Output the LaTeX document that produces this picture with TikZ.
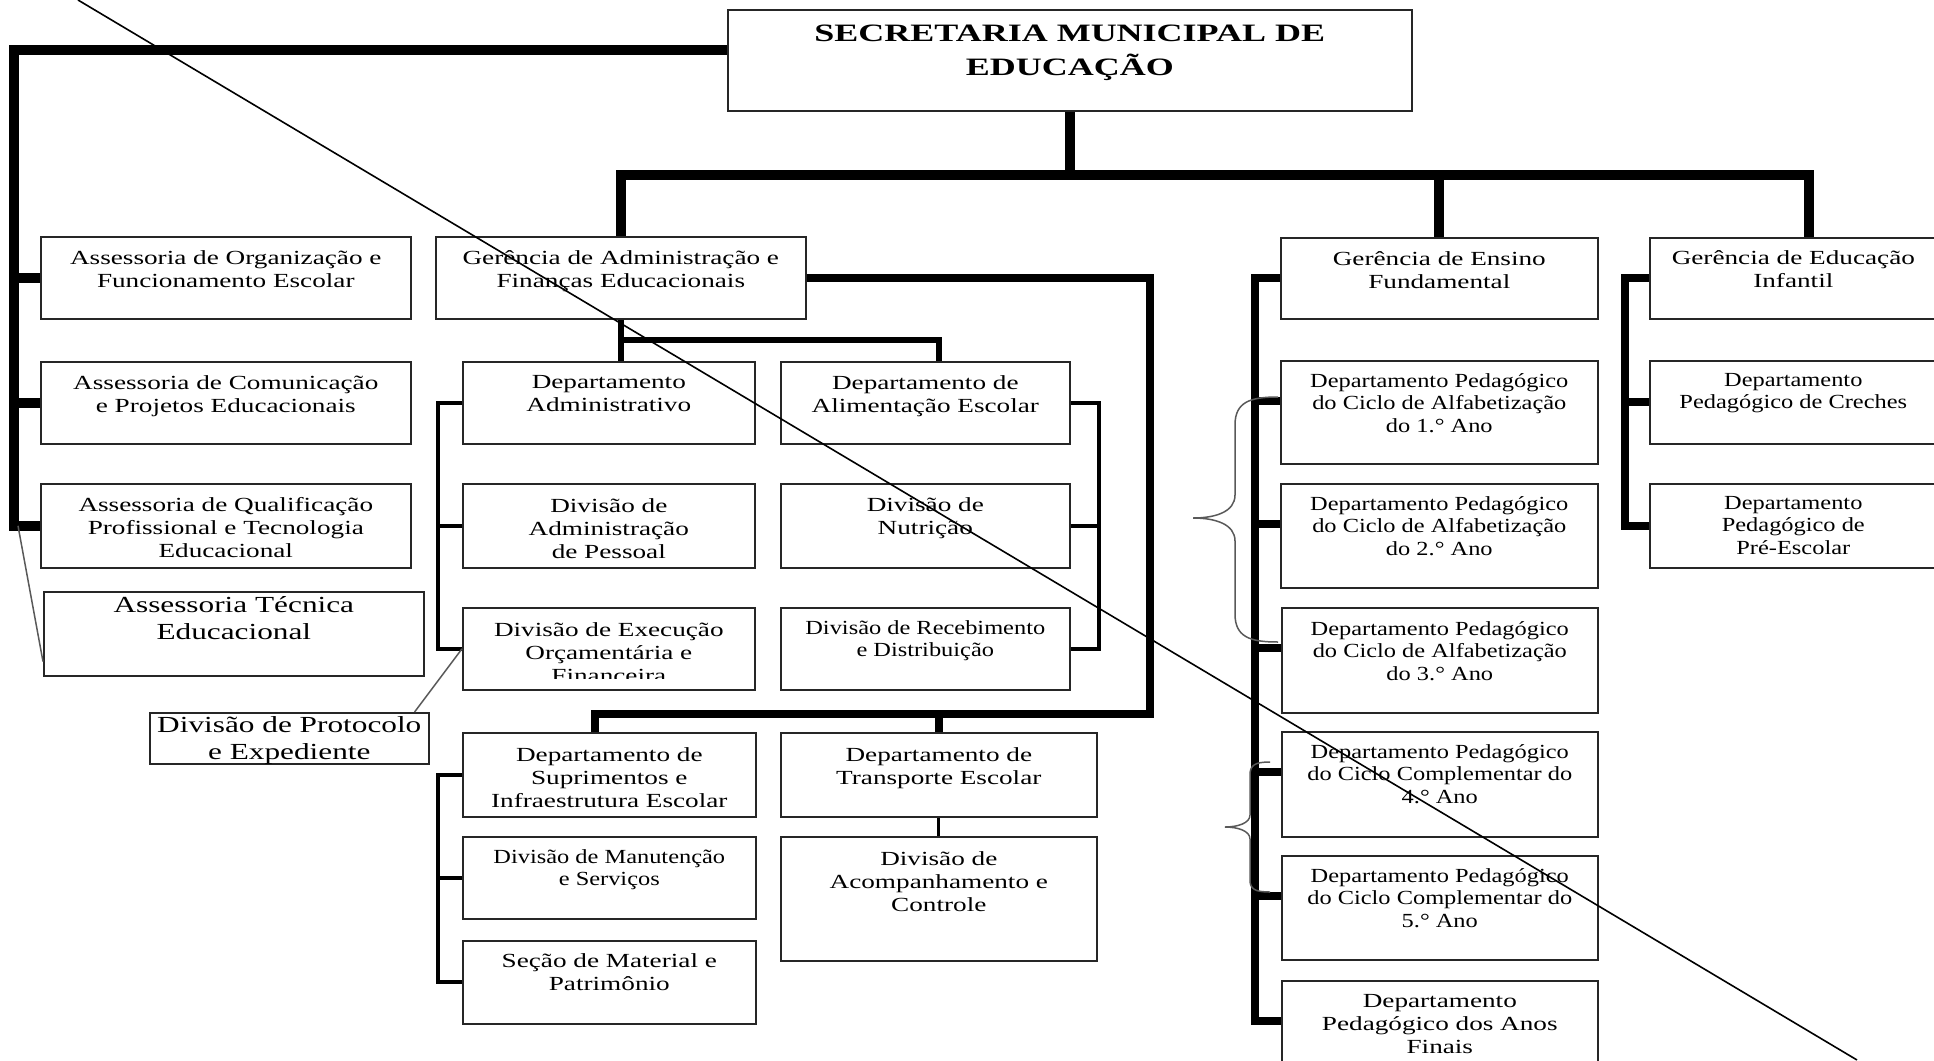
\documentclass[tikz,border=0pt]{standalone}
\usepackage{fontspec}
\setmainfont[FakeStretch=1.36]{Liberation Serif}
\newfontfamily\narrowfont[FakeStretch=1.22]{Liberation Serif}
\newfontfamily\titlefont[FakeStretch=1.44]{Liberation Serif}
\usetikzlibrary{positioning}

\begin{document}
\begin{tikzpicture}[x=1pt, y=-1pt,
    orgbox/.style={draw=black!85, line width=1.6pt, inner sep=0pt, anchor=north west},
    boxtext/.style={align=center, inner sep=0pt, font=\fontsize{20}{23}\selectfont},
    narrowtext/.style={align=center, inner sep=0pt, font=\narrowfont\fontsize{20}{22.5}\selectfont},
    bigtext/.style={align=center, inner sep=0pt, font=\fontsize{23}{27.5}\selectfont},
    trunk/.style={line width=10pt},
    branch/.style={line width=8pt},
    link/.style={line width=6pt},
    subline/.style={line width=4pt},
    hairline/.style={line width=1.5pt, black!65}]

    \clip (0,0) rectangle (1934,1060);

    % Secretaria
    \node[orgbox, minimum width=684, minimum height=101] (sme) at (727,9) {};
    \node[align=center, inner sep=0pt, font=\titlefont\bfseries\fontsize{25}{33.5}\selectfont,
          below=16pt of sme.north] (sme-t) {SECRETARIA MUNICIPAL DE\\EDUCAÇÃO};

    % Assessorias
    \node[orgbox, minimum width=370, minimum height=82] (aofe) at (40,236) {};
    \node[boxtext, below=14pt of aofe.north] (aofe-t) {Assessoria de Organização e\\Funcionamento Escolar};
    \node[orgbox, minimum width=370, minimum height=82] (acpe) at (40,361) {};
    \node[boxtext, below=14pt of acpe.north] (acpe-t) {Assessoria de Comunicação\\e Projetos Educacionais};
    \node[orgbox, minimum width=370, minimum height=84] (aqpte) at (40,483) {};
    \node[boxtext, below=14pt of aqpte.north] (aqpte-t) {Assessoria de Qualificação\\Profissional e Tecnologia\\Educacional};
    \node[orgbox, minimum width=380, minimum height=84] (ate) at (43,591) {};
    \node[bigtext, below=5pt of ate.north] (ate-t) {Assessoria Técnica\\Educacional};

    % Gerencia de Administracao
    \node[orgbox, minimum width=370, minimum height=82] (gafe) at (435,236) {};
    \node[boxtext, below=14pt of gafe.north] (gafe-t) {Gerência de Administração e\\Finanças Educacionais};

    \node[orgbox, minimum width=292, minimum height=82] (da) at (462,361) {};
    \node[boxtext, below=14pt of da.north] (da-t) {Departamento\\Administrativo};
    \node[orgbox, minimum width=292, minimum height=84] (dap) at (462,483) {};
    \node[boxtext, below=15pt of dap.north] (dap-t) {Divisão de\\Administração\\de Pessoal};
    \node[orgbox, minimum width=292, minimum height=82] (deof) at (462,607) {};
    \begin{scope}
        \clip ([yshift=12pt]deof.south west) rectangle (deof.north east);
        \node[boxtext, below=15pt of deof.north] (deof-t) {Divisão de Execução\\Orçamentária e\\Financeira};
    \end{scope}
    \node[orgbox, minimum width=279, minimum height=51] (prot) at (149,712) {};
    \node[bigtext, below=4pt of prot.north] (prot-t) {Divisão de Protocolo\\e Expediente};

    \node[orgbox, minimum width=289, minimum height=82] (dae) at (780,361) {};
    \node[boxtext, below=14pt of dae.north] (dae-t) {Departamento de\\Alimentação Escolar};
    \node[orgbox, minimum width=289, minimum height=84] (dn) at (780,483) {};
    \node[boxtext, below=14pt of dn.north] (dn-t) {Divisão de\\Nutrição};
    \node[orgbox, minimum width=289, minimum height=82] (drd) at (780,607) {};
    \node[narrowtext, below=13pt of drd.north] (drd-t) {Divisão de Recebimento\\e Distribuição};

    \node[orgbox, minimum width=293, minimum height=84] (dsie) at (462,732) {};
    \node[boxtext, below=15pt of dsie.north] (dsie-t) {Departamento de\\Suprimentos e\\Infraestrutura Escolar};
    \node[orgbox, minimum width=293, minimum height=82] (dms) at (462,836) {};
    \node[narrowtext, below=13pt of dms.north] (dms-t) {Divisão de Manutenção\\e Serviços};
    \node[orgbox, minimum width=293, minimum height=83] (smp) at (462,940) {};
    \node[boxtext, below=13pt of smp.north] (smp-t) {Seção de Material e\\Patrimônio};

    \node[orgbox, minimum width=316, minimum height=84] (dte) at (780,732) {};
    \node[boxtext, below=15pt of dte.north] (dte-t) {Departamento de\\Transporte Escolar};
    \node[orgbox, minimum width=316, minimum height=124] (dac) at (780,836) {};
    \node[boxtext, below=15pt of dac.north] (dac-t) {Divisão de\\Acompanhamento e\\Controle};

    % Gerencia de Ensino Fundamental
    \node[orgbox, minimum width=317, minimum height=81] (gef) at (1280,237) {};
    \node[boxtext, below=14pt of gef.north] (gef-t) {Gerência de Ensino\\Fundamental};
    \node[orgbox, minimum width=317, minimum height=103] (dp1) at (1280,360) {};
    \node[narrowtext, below=13pt of dp1.north] (dp1-t) {Departamento Pedagógico\\do Ciclo de Alfabetização\\do 1.° Ano};
    \node[orgbox, minimum width=317, minimum height=104] (dp2) at (1280,483) {};
    \node[narrowtext, below=13pt of dp2.north] (dp2-t) {Departamento Pedagógico\\do Ciclo de Alfabetização\\do 2.° Ano};
    \node[orgbox, minimum width=316, minimum height=105] (dp3) at (1281,607) {};
    \node[narrowtext, below=14pt of dp3.north] (dp3-t) {Departamento Pedagógico\\do Ciclo de Alfabetização\\do 3.° Ano};
    \node[orgbox, minimum width=316, minimum height=105] (dp4) at (1281,731) {};
    \node[narrowtext, below=13pt of dp4.north] (dp4-t) {Departamento Pedagógico\\do Ciclo Complementar do\\4.° Ano};
    \node[orgbox, minimum width=316, minimum height=104] (dp5) at (1281,855) {};
    \node[narrowtext, below=13pt of dp5.north] (dp5-t) {Departamento Pedagógico\\do Ciclo Complementar do\\5.° Ano};
    \node[orgbox, minimum width=316, minimum height=104] (dpaf) at (1281,980) {};
    \node[boxtext, below=14pt of dpaf.north] (dpaf-t) {Departamento\\Pedagógico dos Anos\\Finais};

    % Gerencia de Educacao Infantil
    \node[orgbox, minimum width=287, minimum height=81] (gei) at (1649,237) {};
    \node[boxtext, below=13pt of gei.north] (gei-t) {Gerência de Educação\\Infantil};
    \node[orgbox, minimum width=287, minimum height=83] (creches) at (1649,360) {};
    \node[narrowtext, below=13pt of creches.north] (creches-t) {Departamento\\Pedagógico de Creches};
    \node[orgbox, minimum width=287, minimum height=84] (pre) at (1649,483) {};
    \node[narrowtext, below=13pt of pre.north] (pre-t) {Departamento\\Pedagógico de\\Pré-Escolar};

    % Main lines
    \draw[trunk] (sme.south) -- ++(0,63) coordinate (bus);
    \draw[trunk] (bus) -| (gafe.north);
    \draw[trunk] (bus) -| (gef.north);
    \draw[trunk] (bus) -| ([xshift=16pt]gei.north);
    \draw[trunk] ([yshift=10pt]sme.west) -- ++(-713,0) |- (aqpte.west);
    \draw[trunk] (aofe.west) -- ++(-26,0);
    \draw[trunk] (acpe.west) -- ++(-26,0);
    \draw[hairline] ([xshift=-22pt]aqpte.west) -- ([yshift=15pt]ate.south west);

    % Administracao
    \draw[link] (gafe.south) -- (gafe.south |- da.north);
    \draw[link] ([yshift=-20pt]gafe.south) -| ([xshift=13.5pt]dae.north);
    \draw[branch] (gafe.east) -- ++(343,0) -- ++(0,436) -| ([xshift=-14pt]dsie.north);
    \draw[branch] (dte.north) -- ++(0,-19);
    \draw[subline] (da.west) -- ++(-24,0) |- (deof.west);
    \draw[subline] (dap.west) -- ++(-24,0);
    \draw[subline] (dae.east) -- ++(28,0) |- (drd.east);
    \draw[subline] (dn.east) -- ++(28,0);
    \draw[subline] (dsie.west) -- ++(-24,0) |- (smp.west);
    \draw[subline] (dms.west) -- ++(-24,0);
    \draw[line width=3pt] (dte.south) -- (dac.north);
    \draw[hairline] ([xshift=-15pt]prot.north east) -- (deof.west);

    % Ensino Fundamental
    \draw[branch] (gef.west) -- ++(-25,0) |- ([yshift=-41pt]dpaf.north west);
    \draw[branch] ([yshift=-41pt]dp1.north west) -- ++(-25,0);
    \draw[branch] ([yshift=-41pt]dp2.north west) -- ++(-25,0);
    \draw[branch] ([yshift=-41pt]dp3.north west) -- ++(-25,0);
    \draw[branch] ([yshift=-41pt]dp4.north west) -- ++(-25,0);
    \draw[branch] ([yshift=-41pt]dp5.north west) -- ++(-25,0);

    % Braces
    \draw[hairline] (1278,397) .. controls (1250,397) and (1235,402) .. (1235,425) -- (1235,495)
        .. controls (1235,512) and (1215,518) .. (1193,518)
        .. controls (1215,518) and (1235,524) .. (1235,541) -- (1235,614)
        .. controls (1235,637) and (1250,642) .. (1278,642);
    \draw[hairline] (1270,762) .. controls (1255,762) and (1250,765) .. (1250,775) -- (1250,815)
        .. controls (1250,823) and (1238,827) .. (1225,827)
        .. controls (1238,827) and (1250,831) .. (1250,839) -- (1250,880)
        .. controls (1250,889) and (1255,892) .. (1270,892);

    % Educacao Infantil
    \draw[branch] (gei.west) -- ++(-24,0) |- (pre.west);
    \draw[branch] (creches.west) -- ++(-24,0);

    % Diagonal stroke
    \draw[line width=1.6pt] (78,0) -- (1857,1060);
\end{tikzpicture}
\end{document}
